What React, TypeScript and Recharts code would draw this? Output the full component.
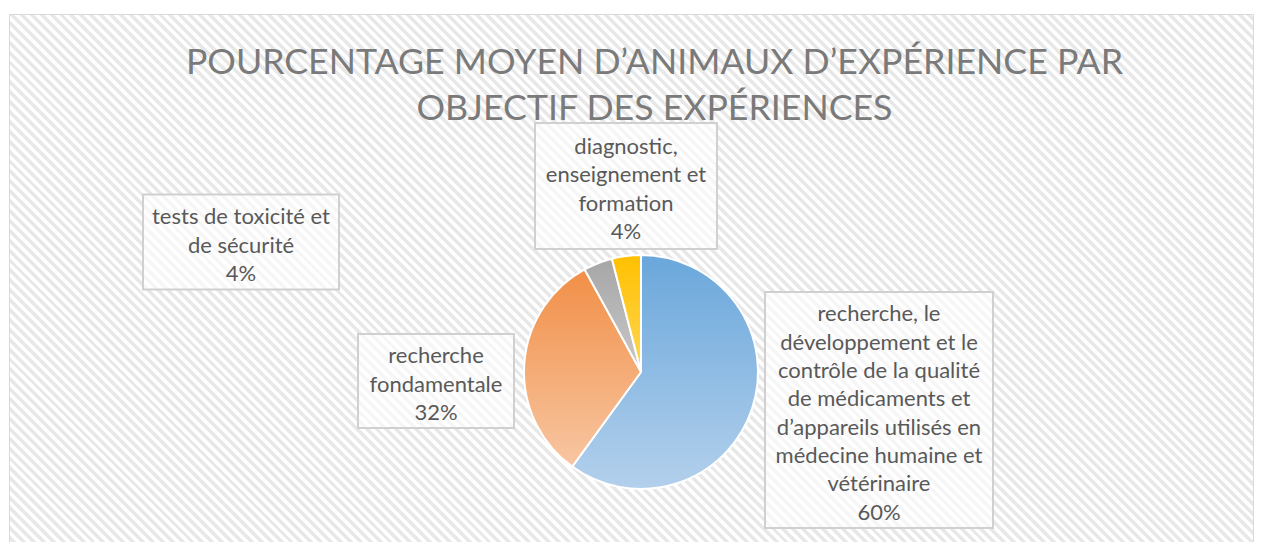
import { PieChart, Pie, Cell } from 'recharts'

const categories = [
  'recherche, le\ndéveloppement et le\ncontrôle de la qualité\nde médicaments et\nd’appareils utilisés en\nmédecine humaine et\nvétérinaire',
  'recherche\nfondamentale',
  'tests de toxicité et\nde sécurité',
  'diagnostic,\nenseignement et\nformation',
]
const values = [60, 32, 4, 4]
const data = categories.map((name, i) => ({ name, value: values[i] }))

// gradient top / bottom colours per slice
const GRADIENTS = [
  ['#6aa7db', '#b3d0ec'],
  ['#f18f47', '#f8c6a2'],
  ['#a6a6a6', '#c9c9c9'],
  ['#ffc000', '#ffd755'],
]

// label box: offset of centre from pie centre, width, height
const LABEL_BOXES = [
  [238, 38, 228, 236],
  [-205, 9, 156, 94],
  [-400, -130, 196, 95],
  [-15, -186, 182, 126],
]

const FONT = 'Lato, "Noto Sans", sans-serif'

const renderLabel = (props: any) => {
  const { cx, cy, index, percent, name } = props
  const [dx, dy, w, h] = LABEL_BOXES[index]
  const bx = cx + dx
  const by = cy + dy
  const lines = [...String(name).split('\n'), `${Math.round(percent * 100)}%`]
  const lh = 28.3
  const y0 = by + 2 - ((lines.length - 1) * lh) / 2
  return (
    <g key={`lbl-${index}`}>
      <rect x={bx - w / 2} y={by - h / 2} width={w} height={h} fill="#fff" fillOpacity={0.6} stroke="#d0d0d0" strokeWidth={2} />
      <text textAnchor="middle" fill="#595959" fontSize={22} fontFamily={FONT}>
        {lines.map((l, i) => (
          <tspan key={i} x={bx} y={y0 + i * lh} dominantBaseline="central">{l}</tspan>
        ))}
      </text>
    </g>
  )
}

export default function App() {
  return (
    <div style={{ position: 'fixed', left: 0, top: 0, width: 1263, height: 542, overflow: 'hidden', background: '#fff' }}>
      <div style={{
        position: 'absolute', left: 9, top: 14, width: 1243, height: 540,
        border: '1px solid #d9d9d9',
        background: 'repeating-linear-gradient(45deg, #ffffff 0px, #ffffff 3.5px, #e8e8e8 3.5px, #e8e8e8 7px)',
      }} />
      <div style={{
        position: 'absolute', left: 23, top: 38, width: 1263, textAlign: 'center',
        fontFamily: FONT, fontWeight: 400, fontSize: 35.7, lineHeight: '46px', color: '#7a7a7a',
      }}>
        POURCENTAGE MOYEN D’ANIMAUX D’EXPÉRIENCE PAR<br />OBJECTIF DES EXPÉRIENCES
      </div>
      <svg width={0} height={0} style={{ position: 'absolute' }}>
        <defs>
          {GRADIENTS.map(([a, b], i) => (
            <linearGradient key={i} id={`g${i}`} x1="0" y1="0" x2="0" y2="1">
              <stop offset="0%" stopColor={a} />
              <stop offset="100%" stopColor={b} />
            </linearGradient>
          ))}
        </defs>
      </svg>
      <div style={{ position: 'absolute', left: 0, top: 0 }}>
        <PieChart width={1263} height={542} margin={{ top: 0, right: 0, bottom: 0, left: 0 }}>
          <Pie
            data={data}
            dataKey="value"
            nameKey="name"
            cx={641}
            cy={372}
            outerRadius={117}
            startAngle={90}
            endAngle={-270}
            stroke="#fff"
            strokeWidth={2}
            label={renderLabel}
            labelLine={false}
            isAnimationActive={false}
          >
            {data.map((_, i) => <Cell key={i} fill={`url(#g${i})`} />)}
          </Pie>
        </PieChart>
      </div>
    </div>
  )
}
